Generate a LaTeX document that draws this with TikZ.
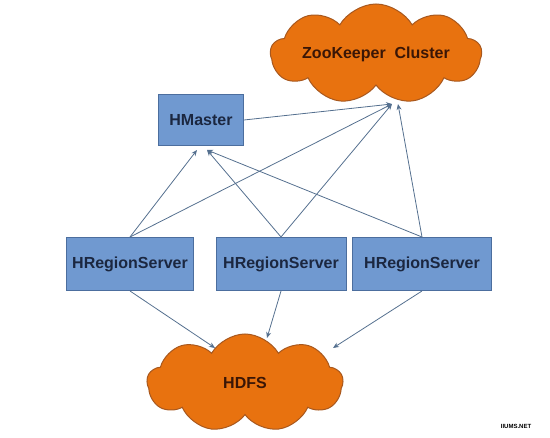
\documentclass[tikz,border=0pt]{standalone}
\usepackage{fontspec}
\setmainfont{Liberation Sans}
\usetikzlibrary{shapes.symbols,arrows.meta,calc}
\definecolor{boxblue}{HTML}{7099D0}
\definecolor{boxline}{HTML}{4C6E9E}
\definecolor{boxtext}{HTML}{1B2740}
\definecolor{pufforange}{HTML}{E8720F}
\definecolor{puffline}{HTML}{A8581E}
\definecolor{pufftext}{HTML}{3A1606}
\definecolor{linkgray}{HTML}{55708F}
\begin{document}
\begin{tikzpicture}[x=1pt,y=-1pt,
  box/.style={draw=boxline,fill=boxblue,line width=1pt,minimum height=53pt,
    font=\fontsize{16}{18}\selectfont\bfseries,text=boxtext},
  puff/.style={cloud,cloud puffs=9,cloud puff arc=120,cloud ignores aspect,
    draw=puffline,fill=pufforange,line width=1pt,
    font=\fontsize{16}{18}\selectfont\bfseries,text=pufftext},
  link/.style={draw=linkgray,line width=0.8pt,-{Stealth[length=6pt,width=5pt]}}]
\useasboundingbox (0,0) rectangle (550,438);
\node[puff,minimum width=195pt,minimum height=100pt] (zk) at (376,54) {ZooKeeper\ \ Cluster};
\node[box,minimum width=85pt,minimum height=51pt] (hmaster) at (201,120) {HMaster};
\node[box,minimum width=127pt] (rs1) at (130,264) {HRegionServer};
\node[box,minimum width=130pt] (rs2) at (281,264) {HRegionServer};
\node[box,minimum width=139pt] (rs3) at (422,264) {HRegionServer};
\node[puff,minimum width=196pt,minimum height=98pt] (hdfs) at (245,383) {HDFS};
% arrow ends
\coordinate (mA) at ($(hmaster.south)+(-4,4)$);
\coordinate (mB) at ($(hmaster.south)+(6,4)$);
\coordinate (zA) at (392,104);
\coordinate (zB) at (398,104);
\coordinate (dA) at ($(hdfs)+(-30,-35)$);
\coordinate (dB) at ($(hdfs)+(22,-45)$);
\coordinate (dC) at ($(hdfs)+(88,-35)$);
\draw[link] (hmaster.east) -- (zA);
\draw[link] (rs1.north) -- (mA);
\draw[link] (rs2.north) -- (mB);
\draw[link] (rs3.north) -- (mB);
\draw[link] (rs1.north) -- (zA);
\draw[link] (rs2.north) -- (zA);
\draw[link] (rs3.north) -- (zB);
\draw[link] (rs1.south) -- (dA);
\draw[link] (rs2.south) -- (dB);
\draw[link] (rs3.south) -- (dC);
\node[font=\fontsize{6}{6}\selectfont\bfseries] (mark) at (516,426) {IIUMS.NET};
\end{tikzpicture}
\end{document}
